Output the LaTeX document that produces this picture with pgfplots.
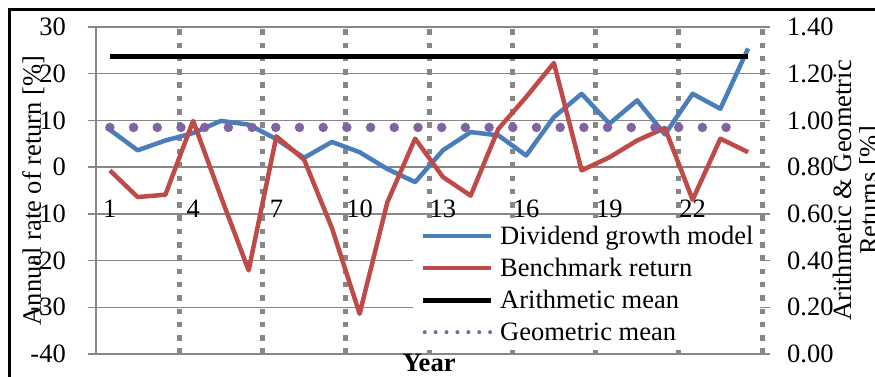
\documentclass[border=0pt]{standalone}
\usepackage{fontspec}
\setmainfont{Liberation Serif}
\usepackage{pgfplots}
\usepackage{pgfplotstable}
\pgfplotsset{compat=1.18}
\definecolor{cblue}{HTML}{4A7EBB}
\definecolor{cred}{HTML}{BE4B48}
\definecolor{cpurple}{HTML}{8064A2}
\definecolor{cgrid}{HTML}{878787}

\pgfplotstableread{
year div bench
1 8.0 -0.7
2 3.6 -6.4
3 5.7 -5.9
4 7.3 9.9
5 9.9 -6.3
6 9.1 -22.1
7 6.0 6.6
8 2.0 1.6
9 5.4 -13.0
10 3.2 -31.4
11 -0.4 -7.5
12 -3.2 6.1
13 3.6 -2.1
14 7.5 -6.1
15 6.8 8.2
16 2.5 15.0
17 10.7 22.3
18 15.7 -0.7
19 9.3 2.1
20 14.3 5.7
21 7.0 8.4
22 15.7 -7.0
23 12.5 6.1
24 25.4 3.2
}\returns

\pgfplotstableread{
year arith geom
1 1.275 0.970
24 1.275 0.970
}\means

\newcommand{\bigfont}{\fontsize{26.5}{26.5}\selectfont}

\begin{document}
\begin{tikzpicture}[x=1pt,y=1pt]
\begin{axis}[
  at={(96pt,23pt)}, anchor=south west,
  scale only axis, width=666pt, height=327pt,
  xmin=0.5, xmax=24.5, ymin=-40, ymax=30,
  axis x line*=bottom, axis y line*=left,
  x axis line style={cgrid, line width=1.5pt},
  y axis line style={cgrid, line width=2pt},
  xtick={1,4,...,22},
  minor xtick={3.5,6.5,...,24.5},
  ytick={-40,-30,...,30},
  xtick style={draw=none},
  minor x tick style={draw=none},
  ytick style={cgrid, line width=1.5pt},
  major tick length=8pt,
  tick align=outside,
  ymajorgrids, xminorgrids,
  major grid style={cgrid, line width=1.5pt},
  minor x grid style={cgrid, line width=5pt, dash pattern=on 5.5pt off 7.8pt},
  tick label style={font=\bigfont},
  /pgf/number format/assume math mode=true,
  yticklabel style={inner sep=0pt, anchor=east, xshift=-22pt},
  xticklabel style={inner sep=0pt, anchor=base, yshift=144pt},
  every axis x label/.style={at={(axis description cs:0.5,0)}, anchor=base, yshift=-18pt, font=\bigfont\bfseries},
  every axis y label/.style={at={(axis description cs:-0.0826,0.5)}, rotate=90, anchor=base, inner sep=0pt, font=\bigfont},
  xlabel={Year},
  ylabel={Annual rate of return [\%]},
  clip=false,
]
\addplot[cblue, line width=4.5pt, line join=round] table[x=year, y=div] {\returns};
\addplot[cred, line width=4.5pt, line join=round] table[x=year, y=bench] {\returns};
\end{axis}

\begin{axis}[
  at={(96pt,23pt)}, anchor=south west,
  scale only axis, width=666pt, height=327pt,
  xmin=0.5, xmax=24.5, ymin=0, ymax=1.4,
  axis x line=none, axis y line*=right,
  y axis line style={draw=none},
  ytick={0,0.2,0.4,0.6,0.8,1.0,1.2,1.4},
  ytick style={cgrid, line width=1.5pt},
  major tick length=8pt,
  tick align=outside,
  tick label style={font=\bigfont},
  /pgf/number format/assume math mode=true,
  yticklabel style={inner sep=0pt, anchor=west, xshift=17pt, /pgf/number format/.cd, fixed, fixed zerofill, precision=2},
  every axis y label/.style={at={(axis description cs:1.106,0.5)}, rotate=90, anchor=north, inner sep=0pt, align=center, font=\bigfont},
  ylabel={Arithmetic \& Geometric\\Returns [\%]},
  legend style={at={(axis description cs:0.476,0.416)}, anchor=north west,
    draw=none, fill=white, inner xsep=7pt, inner ysep=6pt, row sep=8pt, column sep=7pt,
    font=\bigfont, cells={anchor=west},
    nodes={inner sep=0pt, text height=20pt, text depth=4pt}},
  legend image code/.code={\draw[#1, line cap=butt] (0pt,0pt) -- (68pt,0pt);},
  clip=false,
]
\addlegendimage{cblue, line width=4.5pt}
\addlegendentry{Dividend growth model}
\addlegendimage{cred, line width=4.5pt}
\addlegendentry{Benchmark return}
\addplot[black, line width=5pt] table[x=year, y=arith] {\means};
\addlegendentry{Arithmetic mean}
\addplot[cpurple, line width=9.5pt, line cap=round, dash pattern=on 0pt off 23.7pt, forget plot] table[x=year, y=geom] {\means};
\addlegendimage{legend image code/.code={\draw[cpurple, line width=4pt, line cap=round, dash pattern=on 0pt off 10.9pt] (2pt,0pt) -- (68pt,0pt);}}
\addlegendentry{Geometric mean}
\end{axis}

\draw[line width=3pt] (9.5,-20) -- (9.5,367) -- (900,367);
\pgfresetboundingbox
\useasboundingbox (0,0) rectangle (875,377);
\end{tikzpicture}
\end{document}
